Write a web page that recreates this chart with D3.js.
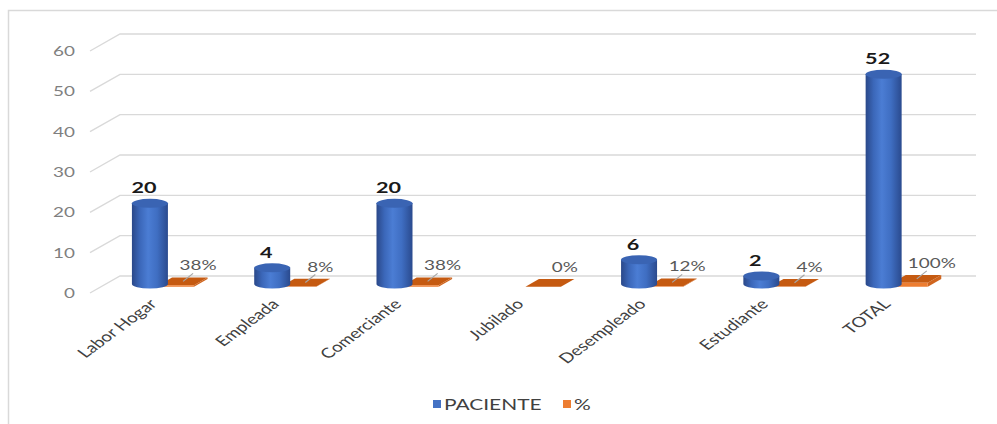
<!DOCTYPE html>
<html>
<head>
<meta charset="utf-8">
<script src="https://cdn.jsdelivr.net/npm/d3@7/dist/d3.min.js"></script>
<style>
  body { margin: 0; background: #fff; }
  text { font-family: Lato, "Open Sans", sans-serif; }
</style>
</head>
<body>
<div id="chart-area"></div>
<script>
const categories = ["Labor Hogar", "Empleada", "Comerciante", "Jubilado", "Desempleado", "Estudiante", "TOTAL"];
const pacientes = [20, 4, 20, 0, 6, 2, 52];
const porcentajes = [0.38, 0.08, 0.38, 0, 0.12, 0.04, 1];
const porcentajeLabels = ["38%", "8%", "38%", "0%", "12%", "4%", "100%"];
const yTicks = [0, 10, 20, 30, 40, 50, 60];
const legendItems = ["PACIENTE", "%"];

const W = 997, H = 424,
  depth = [-30, 17], // back wall -> front edge
  stretch = 1.35,
  blue = "#4472C4",
  orange = "#ED7D31";

const svg = d3.select("#chart-area").append("svg").attr("width", W).attr("height", H);

// border
svg.append("rect")
  .attr("x", 8.5).attr("y", 10.5).attr("width", 1000).attr("height", 430)
  .attr("fill", "none").attr("stroke", "#d9d9d9").attr("stroke-width", 1.5);

const x = d3.scaleBand().domain(categories).range([120, 976]);
const y = d3.scaleLinear().domain([0, 60]).range([276, 34]);
const bw = x.bandwidth();

// point on a plane t (0 = back wall, 1 = front)
const pt = (xb, v, t) => [xb + t * depth[0], y(v) + t * depth[1]];

// stretched text helper
function label(g, str, px, py, opts) {
  const t = g.append("text")
    .attr("transform", `translate(${px},${py}) scale(${stretch},1)` + (opts.rot ? ` rotate(${opts.rot})` : ""))
    .attr("text-anchor", opts.anchor || "middle")
    .attr("font-size", opts.size)
    .attr("font-weight", opts.weight || "normal")
    .attr("fill", opts.fill)
    .text(str);
  if (opts.dy) t.attr("dy", opts.dy);
  return t;
}

// gradient
const defs = svg.append("defs");
const grad = defs.append("linearGradient").attr("id", "cyl").attr("x1", 0).attr("x2", 1).attr("y1", 0).attr("y2", 0);
[[0, "#2a4889"], [0.22, "#3b67b9"], [0.45, "#4b7dd4"], [0.7, "#3f6ec2"], [1, "#2a4a8e"]]
  .forEach(s => grad.append("stop").attr("offset", s[0]).attr("stop-color", s[1]));

// grid: back wall + side diagonals
const grid = svg.append("g");
yTicks.forEach(v => {
  const a = pt(120, v, 1), b = pt(120, v, 0);
  grid.append("path")
    .attr("d", `M${a[0]},${a[1]}L${b[0]},${b[1]}H976`)
    .attr("fill", "none").attr("stroke", "#d9d9d9").attr("stroke-width", 1.4);
  label(grid, v, 75, a[1], { anchor: "end", size: 14, fill: "#7f7f7f", dy: "0.35em" });
});

// percent slabs
const slabT0 = 0.18, slabT1 = 0.63;
const slabs = svg.append("g");
categories.forEach((c, i) => {
  const p = porcentajes[i];
  const x0 = x(c) + 0.47 * bw, x1 = x(c) + 0.76 * bw;
  const poly = pts => pts.map(d => d.join(",")).join(" ");
  // right side
  slabs.append("polygon")
    .attr("points", poly([pt(x1, p, slabT0), pt(x1, p, slabT1), pt(x1, 0, slabT1), pt(x1, 0, slabT0)]))
    .attr("fill", "#d0651e");
  // top
  slabs.append("polygon")
    .attr("points", poly([pt(x0, p, slabT0), pt(x1, p, slabT0), pt(x1, p, slabT1), pt(x0, p, slabT1)]))
    .attr("fill", "#c55a11");
  // front
  slabs.append("polygon")
    .attr("points", poly([pt(x0, p, slabT1), pt(x1, p, slabT1), pt(x1, 0, slabT1), pt(x0, 0, slabT1)]))
    .attr("fill", orange);

  const mid = pt((x0 + x1) / 2, p, (slabT0 + slabT1) / 2);
  const lx = mid[0] + 15, ly = mid[1] - 11;
  if (p > 0) {
    slabs.append("line")
      .attr("x1", mid[0]).attr("y1", mid[1])
      .attr("x2", lx - 5).attr("y2", ly + 3)
      .attr("stroke", "#a6a6a6").attr("stroke-width", 1.2);
  }
  label(slabs, porcentajeLabels[i], lx, ly, { size: 14, fill: "#595959" });
});

// cylinders
const cylT = 0.47, r = 18, ry = 4.5;
const cyl = svg.append("g");
categories.forEach((c, i) => {
  const v = pacientes[i];
  if (v <= 0) return;
  const base = pt(x(c) + 0.36 * bw, 0, cylT);
  const top = pt(x(c) + 0.36 * bw, v, cylT);
  const cx = base[0];
  cyl.append("path")
    .attr("d", `M${cx - r},${top[1]}V${base[1]}A${r},${ry} 0 0 0 ${cx + r},${base[1]}V${top[1]}Z`)
    .attr("fill", "url(#cyl)");
  cyl.append("ellipse")
    .attr("cx", cx).attr("cy", top[1]).attr("rx", r).attr("ry", ry)
    .attr("fill", "#3a64b3");
  label(cyl, v, cx - 6, top[1] - 10, { size: 16, weight: "bold", fill: "#1a1a1a" });
});

// category labels
const xl = svg.append("g");
categories.forEach(c => {
  const fx = pt(x(c) + 0.36 * bw, 0, cylT)[0];
  label(xl, c, fx + 8, 305, { anchor: "end", size: 14, fill: "#404040", rot: -45 });
});

// legend
const leg = svg.append("g");
[[433, blue], [563, orange]].forEach((d, i) => {
  leg.append("rect").attr("x", d[0]).attr("y", 400).attr("width", 8).attr("height", 8).attr("fill", d[1]);
  label(leg, legendItems[i], d[0] + 11, 409.5, { anchor: "start", size: 15.5, fill: "#404040" });
});
</script>
</body>
</html>
